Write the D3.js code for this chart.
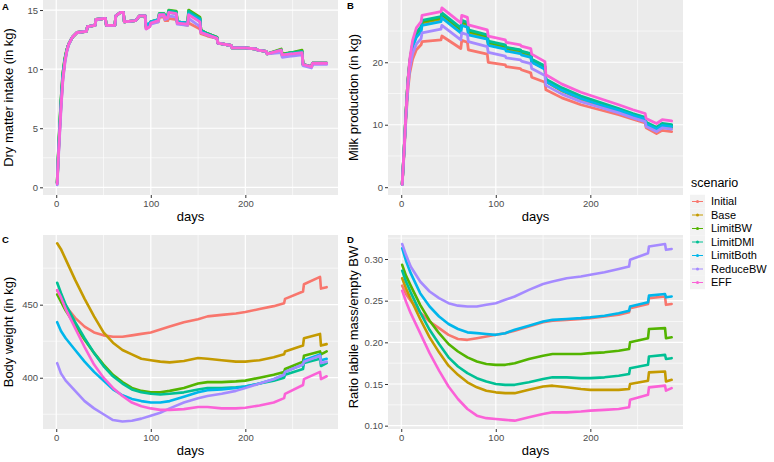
<!DOCTYPE html>
<html>
<head>
<meta charset="utf-8">
<script src="https://cdn.jsdelivr.net/npm/d3@7"></script>
<style>
  body { margin: 0; background: #fff; font-family: "Liberation Sans", Arial, sans-serif; }
</style>
</head>
<body>
<div id="chart"></div>
<script>
// scenario names, in the legend order
var scenarios = ["Initial", "Base", "LimitBW", "LimitDMI", "LimitBoth", "ReduceBW", "EFF"];

// days sampled for panel A (dry matter intake)
var dmiDays = [1,2,3,4,5,6,7,9,11,13, 17,22,32,33,41,42,52,53,62,63,
  68,71,72,84,88,94,95,99,100,108, 109,114,115,118,119,127,128,139,140,152,
  153,160,170,171,185,186,200,212,213,222, 223,238,239,248,249,260,261,270,271,286];

var dmiInitial = [0.3,2.2,3.8,5.3,6.8,8.0,9.2,10.6,11.5,12.1, 12.7,13.1,13.2,13.6,13.7,14.2,14.3,13.7,13.7,14.5,
  14.8,14.8,14.0,14.1,14.5,14.5,13.5,13.7,13.9,14.0, 14.4,14.4,14.1,14.1,14.3,14.2,13.9,13.7,13.9,13.4,
  13.0,12.8,12.6,12.2,12.0,11.8,11.8,11.7,11.6,11.5, 11.3,11.5,11.1,11.2,11.2,11.3,10.4,10.2,10.5,10.5];
var dmiBase = [0.4,2.4,4.1,5.6,7.1,8.3,9.5,10.8,11.6,12.1, 12.7,13.1,13.2,13.6,13.7,14.2,14.3,13.7,13.7,14.5,
  14.8,14.8,14.0,14.1,14.5,14.5,13.6,13.8,14.0,14.2, 14.6,14.6,14.4,14.5,14.9,14.8,14.0,13.9,14.8,14.3,
  13.3,13.0,12.7,12.2,12.0,11.8,11.8,11.7,11.6,11.5, 11.3,11.6,11.2,11.4,11.4,11.5,10.4,10.2,10.5,10.5];
var dmiLimitBW = [0.4,2.6,4.3,5.9,7.4,8.6,9.7,10.9,11.6,12.1, 12.7,13.1,13.2,13.6,13.7,14.2,14.3,13.7,13.7,14.5,
  14.8,14.8,14.0,14.1,14.5,14.5,13.6,13.8,14.0,14.2, 14.7,14.7,14.5,14.6,15.0,14.9,14.0,13.9,15.0,14.4,
  13.3,13.0,12.7,12.2,12.0,11.8,11.8,11.7,11.6,11.5, 11.3,11.7,11.3,11.4,11.4,11.6,10.4,10.2,10.5,10.5];
var dmiLimitDMI = [0.4,2.5,4.2,5.8,7.3,8.5,9.6,10.8,11.6,12.1, 12.7,13.1,13.2,13.6,13.7,14.2,14.3,13.7,13.7,14.5,
  14.8,14.8,14.0,14.1,14.5,14.5,13.6,13.8,14.0,14.2, 14.7,14.7,14.5,14.6,14.95,14.85,14.0,13.9,14.9,14.3,
  13.3,13.0,12.7,12.2,12.0,11.8,11.8,11.7,11.6,11.5, 11.3,11.6,11.2,11.4,11.4,11.5,10.4,10.2,10.5,10.5];
var dmiLimitBoth = [0.3,2.3,4.0,5.5,7.0,8.2,9.4,10.7,11.5,12.1, 12.7,13.1,13.2,13.6,13.7,14.2,14.3,13.7,13.7,14.5,
  14.8,14.8,14.0,14.1,14.5,14.5,13.7,13.9,14.0,14.2, 14.6,14.6,14.4,14.5,14.8,14.7,14.0,13.9,14.7,14.2,
  13.2,12.9,12.6,12.2,12.0,11.8,11.8,11.7,11.6,11.5, 11.3,11.6,11.2,11.3,11.3,11.4,10.4,10.2,10.5,10.5];
var dmiReduceBW = [0.2,2.0,3.5,5.0,6.5,7.8,9.0,10.4,11.4,12.0, 12.7,13.1,13.2,13.6,13.7,14.2,14.3,13.7,13.7,14.5,
  14.8,14.8,14.0,14.1,14.5,14.5,13.4,13.6,13.8,14.0, 14.5,14.5,14.2,14.3,14.5,14.4,13.8,13.7,14.3,13.6,
  13.1,12.9,12.6,12.2,12.0,11.8,11.8,11.7,11.6,11.5, 11.3,11.4,11.0,11.1,11.1,11.2,10.3,10.1,10.4,10.4];
var dmiEFF = [0.3,2.2,3.8,5.3,6.8,8.0,9.2,10.6,11.5,12.1, 12.7,13.1,13.2,13.6,13.7,14.2,14.3,13.7,13.7,14.5,
  14.8,14.8,14.0,14.1,14.5,14.5,13.4,13.6,13.9,14.1, 14.6,14.6,14.3,14.4,14.8,14.7,13.9,13.8,14.6,14.0,
  13.1,12.9,12.6,12.2,12.0,11.8,11.8,11.7,11.6,11.5, 11.3,11.6,11.2,11.3,11.3,11.4,10.4,10.2,10.5,10.5];

// days sampled for panel B (milk production)
var milkDays = [1,3,5,7,9,12,16,21,22,42, 43,63,64,70,71,91,92,110,111,126,
  127,137,138,152,153,170,190,210,230,245, 258,259,270,276,286];

var milkInitial = [0.4,5.5,11,15.5,18.3,20.5,22,22.8,23.3,23.6, 24.2,22.2,23.5,23.2,22.0,21.3,20.0,19.6,19.3,19.0,
  18.8,18.3,17.6,16.8,15.6,14.3,13.2,12.4,11.6,10.9, 10.3,9.5,8.6,9.1,8.9];
var milkBase = [0.5,6,12,17,20,22.7,24.4,25.3,26.3,26.9, 27.5,25.1,26.3,26.0,24.8,24.0,23.0,22.4,22.0,21.6,
  21.4,21.0,20.1,19.0,16.9,15.4,14.1,13.1,12.1,11.3, 10.7,9.9,9.1,9.7,9.5];
var milkLimitBW = [0.5,6,12,17,20,22.8,24.6,25.5,26.5,27.1, 27.7,25.3,26.5,26.2,25.0,24.2,23.2,22.6,22.3,21.9,
  21.7,21.3,20.4,19.3,17.2,15.7,14.4,13.4,12.4,11.6, 11.0,10.2,9.4,10.0,9.8];
var milkLimitDMI = [0.5,6,12,17,20.2,23,24.8,25.7,26.7,27.3, 27.9,25.5,26.7,26.4,25.2,24.4,23.4,22.8,22.4,22.0,
  21.8,21.4,20.5,19.4,17.3,15.9,14.6,13.6,12.6,11.8, 11.2,10.4,9.6,10.2,10.0];
var milkLimitBoth = [0.5,6,11.8,16.8,19.8,22.4,24.0,24.9,25.9,26.5, 27.1,24.7,25.9,25.6,24.4,23.7,22.7,22.1,21.8,21.4,
  21.2,20.8,20.0,18.9,16.9,15.5,14.2,13.2,12.3,11.5, 10.9,10.1,9.3,9.9,9.7];
var milkReduceBW = [0.4,5.5,11.3,16,19,21.4,22.9,23.8,24.7,25.3, 25.9,23.6,24.7,24.4,23.3,22.5,21.6,21.0,20.7,20.4,
  20.2,19.8,19.0,17.9,16.3,14.9,13.7,12.8,11.9,11.1, 10.5,9.7,8.9,9.5,9.3];
var milkEFF = [0.5,6,12,17,20.5,23.5,25.5,26.5,27.5,28.1, 28.7,26.3,27.5,27.2,26.0,25.2,24.2,23.6,23.2,22.8,
  22.6,22.2,21.3,20.1,18.0,16.5,15.2,14.2,13.2,12.4, 11.8,11.0,10.2,10.8,10.6];

// days sampled for panels C and D
var bodyDays = [1,5,10,20,30,40,50,60,70,80, 90,100,110,120,135,150,160,175,190,200,
  215,230,241,242,261,262,279,280,286];

var bwInitial = [460,455,449,441,435,431,429,428,428,429, 430,431,433,435,438,440,442,443,444,445,
  447,449,451,454,459,464,469,461,462];
var bwBase = [492,488,481,467,454,442,431,424,419,416, 413,412,411,410.5,411.5,413.5,413,412,411,411,
  412,414,416,418,422,427,430,422,423];
var bwLimitBW = [457,452,446,436,426,417,409,402,397,393, 391,390,390,391,393,396,397,397,397.5,398,
  400,402,404,406,411,415,418,416,418];
var bwLimitDMI = [465,458,450,438,427,417,408,401,396,392, 390,389,388.5,389,390,392,393,393,393.5,394,
  396,398,400,402,406,410,413,408,410];
var bwLimitBoth = [438,432,427,419,411,404,398,392,388,385.5, 384,383,383,384,387,390,391.5,392,393,394,
  396,399,402,404,409,412,416,412,413];
var bwReduceBW = [410,403,398,391,384,379,375,371,370,370.5, 372,374,376,379,383,386,387.5,389,391,393,
  396,399,402,404,409,411,415,410,411];
var bwEFF = [460,455,447,434,421,409,400,393,387.5,383, 380.5,379,378,378,378.5,380,380,379,379,379.5,
  381,383,386,389,395,399,404,399,401];

var ratioInitial = [0.268,0.258,0.250,0.236,0.225,0.217,0.209,0.204,0.203,0.205, 0.207,0.209,0.211,0.214,0.219,0.224,0.226,0.227,0.228,0.229,
  0.231,0.233,0.236,0.241,0.246,0.253,0.255,0.245,0.246];
var ratioBase = [0.277,0.265,0.252,0.228,0.206,0.188,0.172,0.161,0.152,0.146, 0.142,0.140,0.139,0.139,0.143,0.147,0.148,0.146,0.144,0.143,
  0.143,0.143,0.144,0.150,0.154,0.164,0.165,0.153,0.155];
var ratioLimitBW = [0.293,0.280,0.268,0.245,0.226,0.211,0.198,0.189,0.182,0.177, 0.174,0.173,0.173,0.175,0.180,0.184,0.186,0.186,0.186,0.187,
  0.188,0.190,0.192,0.200,0.205,0.216,0.217,0.205,0.206];
var ratioLimitDMI = [0.286,0.273,0.260,0.236,0.215,0.198,0.182,0.171,0.163,0.157, 0.153,0.150,0.149,0.149,0.152,0.156,0.158,0.158,0.157,0.157,
  0.158,0.160,0.162,0.169,0.173,0.183,0.185,0.180,0.181];
var ratioLimitBoth = [0.313,0.298,0.283,0.259,0.243,0.231,0.222,0.216,0.212,0.211, 0.210,0.209,0.211,0.215,0.220,0.225,0.227,0.228,0.229,0.230,
  0.232,0.235,0.238,0.243,0.248,0.256,0.258,0.254,0.255];
var ratioReduceBW = [0.318,0.305,0.291,0.273,0.261,0.253,0.247,0.244,0.243,0.243, 0.245,0.247,0.251,0.255,0.263,0.270,0.273,0.277,0.279,0.281,
  0.284,0.288,0.291,0.299,0.307,0.315,0.318,0.311,0.312];
var ratioEFF = [0.262,0.249,0.235,0.211,0.187,0.166,0.147,0.132,0.120,0.112, 0.109,0.108,0.107,0.106,0.110,0.114,0.116,0.116,0.117,0.118,
  0.119,0.120,0.122,0.131,0.137,0.146,0.148,0.142,0.145];

var xTicks = [0, 100, 200];

// ggplot default hue palette for 7 groups
var colors = ["#F8766D", "#C49A00", "#53B400", "#00C094", "#00B6EB", "#A58AFF", "#FB61D7"];

var svg = d3.select("#chart").append("svg")
  .attr("width", 774)
  .attr("height", 462);

function drawPanel(p) {
  var x = d3.scaleLinear().domain([-14, 298]).range([p.left, p.right]);
  var y = d3.scaleLinear().domain(p.yDomain).range([p.bottom, p.top]);
  var g = svg.append("g");

  g.append("rect")
    .attr("x", p.left).attr("y", p.top)
    .attr("width", p.right - p.left).attr("height", p.bottom - p.top)
    .attr("fill", "#EBEBEB");

  // grid, minor first
  [50, 150, 250].forEach(function(v) {
    g.append("line").attr("x1", x(v)).attr("x2", x(v)).attr("y1", p.top).attr("y2", p.bottom)
      .attr("stroke", "#fff").attr("stroke-width", 0.6);
  });
  p.yMinor.forEach(function(v) {
    g.append("line").attr("x1", p.left).attr("x2", p.right).attr("y1", y(v)).attr("y2", y(v))
      .attr("stroke", "#fff").attr("stroke-width", 0.6);
  });
  xTicks.forEach(function(v) {
    g.append("line").attr("x1", x(v)).attr("x2", x(v)).attr("y1", p.top).attr("y2", p.bottom)
      .attr("stroke", "#fff").attr("stroke-width", 1.2);
  });
  p.yTicks.forEach(function(v) {
    g.append("line").attr("x1", p.left).attr("x2", p.right).attr("y1", y(v)).attr("y2", y(v))
      .attr("stroke", "#fff").attr("stroke-width", 1.2);
  });

  // axes
  var xAxis = g.append("g")
    .attr("transform", `translate(0, ${p.bottom})`)
    .call(d3.axisBottom(x).tickValues(xTicks).tickSize(3).tickPadding(2));
  var yAxis = g.append("g")
    .attr("transform", `translate(${p.left}, 0)`)
    .call(d3.axisLeft(y).tickValues(p.yTicks).tickSize(3).tickPadding(2).tickFormat(p.fmt));
  [xAxis, yAxis].forEach(function(a) {
    a.select(".domain").remove();
    a.selectAll("line").attr("stroke", "#333");
    a.selectAll("text").attr("fill", "#4D4D4D").style("font-size", "9.5px")
      .style("font-family", '"Liberation Sans", Arial, sans-serif');
  });

  // one line per scenario, drawn in factor order so EFF ends on top
  var line = d3.line()
    .x(function(d, i) { return x(p.days[i]); })
    .y(function(d) { return y(d); });
  p.series.forEach(function(vals, k) {
    g.append("path")
      .datum(vals)
      .attr("d", line)
      .attr("fill", "none")
      .attr("stroke", colors[k])
      .attr("stroke-width", p.lw)
      .attr("stroke-linejoin", "round")
      .attr("stroke-linecap", "round");
  });

  // axis titles
  g.append("text")
    .attr("x", (p.left + p.right) / 2).attr("y", p.bottom + 26)
    .attr("text-anchor", "middle").style("font-size", "13px").attr("fill", "#000")
    .text("days");
  g.append("text")
    .attr("transform", `translate(${p.ylabX}, ${(p.top + p.bottom) / 2 + p.ylabShift}) rotate(-90)`)
    .attr("text-anchor", "middle").style("font-size", "13px").attr("fill", "#000")
    .text(p.ylab);

  // panel tag
  g.append("text")
    .attr("x", p.tagX).attr("y", p.tagY)
    .style("font-size", "9.5px").style("font-weight", "bold").attr("fill", "#000")
    .text(p.tag);
}

drawPanel({
  left: 43, right: 338, top: 0, bottom: 195,
  yDomain: [-0.65, 15.85], yTicks: [0, 5, 10, 15], yMinor: [2.5, 7.5, 12.5],
  fmt: d3.format("d"), days: dmiDays, lw: 2.8,
  series: [dmiInitial, dmiBase, dmiLimitBW, dmiLimitDMI, dmiLimitBoth, dmiReduceBW, dmiEFF],
  ylab: "Dry matter intake (in kg)", ylabX: 13, ylabShift: 0, tag: "A", tagX: 2, tagY: 10
});
drawPanel({
  left: 388, right: 683, top: 0, bottom: 195,
  yDomain: [-1.25, 29.97], yTicks: [0, 10, 20], yMinor: [5, 15, 25],
  fmt: d3.format("d"), days: milkDays, lw: 2.8,
  series: [milkInitial, milkBase, milkLimitBW, milkLimitDMI, milkLimitBoth, milkReduceBW, milkEFF],
  ylab: "Milk production (in kg)", ylabX: 358, ylabShift: 0, tag: "B", tagX: 347, tagY: 9
});
drawPanel({
  left: 43, right: 338, top: 235, bottom: 429,
  yDomain: [364.9, 497.7], yTicks: [400, 450], yMinor: [375, 425, 475],
  fmt: d3.format("d"), days: bodyDays, lw: 2.6,
  series: [bwInitial, bwBase, bwLimitBW, bwLimitDMI, bwLimitBoth, bwReduceBW, bwEFF],
  ylab: "Body weight (in kg)", ylabX: 13, ylabShift: 0, tag: "C", tagX: 2, tagY: 243
});
drawPanel({
  left: 388, right: 683, top: 235, bottom: 429,
  yDomain: [0.096, 0.3288], yTicks: [0.10, 0.15, 0.20, 0.25, 0.30], yMinor: [0.125, 0.175, 0.225, 0.275, 0.325],
  fmt: d3.format(".2f"), days: bodyDays, lw: 2.6,
  series: [ratioInitial, ratioBase, ratioLimitBW, ratioLimitDMI, ratioLimitBoth, ratioReduceBW, ratioEFF],
  ylab: "Ratio labile mass/empty BW", ylabX: 358, ylabShift: -5, tag: "D", tagX: 347, tagY: 243
});

// legend
var legend = svg.append("g");
legend.append("text")
  .attr("x", 691).attr("y", 187)
  .style("font-size", "12.5px").attr("fill", "#000")
  .text("scenario");
scenarios.forEach(function(s, i) {
  var cy = 201.5 + i * 13.5;
  legend.append("rect")
    .attr("x", 690).attr("y", cy - 6.75).attr("width", 15).attr("height", 13.5)
    .attr("fill", "#F2F2F2");
  legend.append("line")
    .attr("x1", 692).attr("x2", 703).attr("y1", cy).attr("y2", cy)
    .attr("stroke", colors[i]).attr("stroke-width", 1);
  legend.append("circle")
    .attr("cx", 697.5).attr("cy", cy).attr("r", 1.5)
    .attr("fill", colors[i]);
  legend.append("text")
    .attr("x", 711).attr("y", cy).attr("dy", "0.35em")
    .style("font-size", "11px").attr("fill", "#000")
    .text(s);
});
</script>
</body>
</html>
